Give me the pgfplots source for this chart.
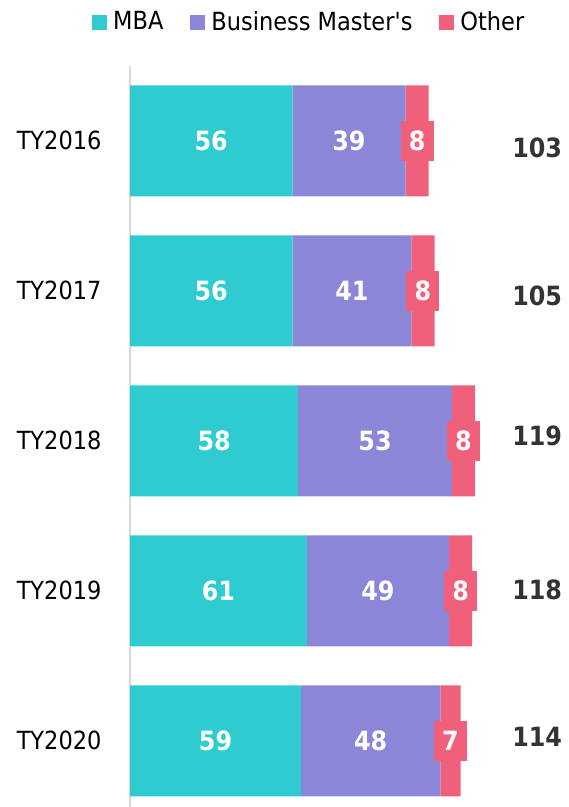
\documentclass[border=0pt]{standalone}
\usepackage{fontspec}
\setmainfont{DejaVu Sans Condensed}
\usepackage{pgfplots}
\pgfplotsset{compat=1.18}
\definecolor{mba}{HTML}{2ECCD0}
\definecolor{bm}{HTML}{8C86D9}
\definecolor{oth}{HTML}{F0607A}
\definecolor{axisgray}{HTML}{D9D9D9}
\definecolor{totalgray}{HTML}{333333}
\newcommand{\bigbold}{\fontsize{26.5pt}{30pt}\selectfont\bfseries}
\begin{document}
\fontsize{25pt}{30pt}\selectfont
\begin{tikzpicture}
\begin{axis}[
  name=ax,
  x=2.9pt, y=150pt,
  xmin=0, xmax=151, ymin=-0.5, ymax=4.441,
  y dir=reverse,
  xbar stacked, bar width=111pt,
  axis x line=none,
  axis y line*=left,
  y axis line style={draw=axisgray, line width=1.5pt},
  ytick={0,1,2,3,4},
  yticklabels={TY2016,TY2017,TY2018,TY2019,TY2020},
  major tick length=0pt,
  yticklabel style={xshift=-20pt, text=black},
  clip=false,
  legend columns=3,
  legend style={draw=none, fill=none, at={(-0.0868,1.0584)}, anchor=west,
    inner sep=0pt, nodes={inner sep=0pt},
    /tikz/every odd column/.append style={column sep=6pt},
    /tikz/every even column/.append style={column sep=27pt}},
  legend image code/.code={\fill[#1] (0pt,-7.5pt) rectangle (15pt,7.5pt);},
  point meta=explicit symbolic,
  nodes near coords,
  every node near coord/.append style={anchor=center, text=white, font=\bigbold},
]
\addplot[fill=mba, draw=none]
  table[x=v, y=y, meta=v] {
y v
0 56
1 56
2 58
3 61
4 59
};
\addlegendentry{MBA}
\addplot[fill=bm, draw=none]
  table[x=v, y=y, meta=v] {
y v
0 39
1 41
2 53
3 49
4 48
};
\addlegendentry{Business Master\textquotesingle s}
\addplot[fill=oth, draw=none,
  every node near coord/.append style={fill=oth, minimum width=33pt, minimum height=40pt, inner sep=0pt}]
  table[x=v, y=y, meta=v] {
y v
0 8
1 8
2 8
3 8
4 7
};
\addlegendentry{Other}
\node[font=\bigbold, text=totalgray] at (axis cs:140.4,0.05) {103};
\node[font=\bigbold, text=totalgray] at (axis cs:140.4,1.035) {105};
\node[font=\bigbold, text=totalgray] at (axis cs:140.4,1.97) {119};
\node[font=\bigbold, text=totalgray] at (axis cs:140.4,2.995) {118};
\node[font=\bigbold, text=totalgray] at (axis cs:140.4,3.97) {114};
\end{axis}
\pgfresetboundingbox
\path[use as bounding box] ([xshift=-130pt]ax.south west) rectangle ([xshift=0.1pt,yshift=65.8pt]ax.north east);
\end{tikzpicture}
\end{document}
